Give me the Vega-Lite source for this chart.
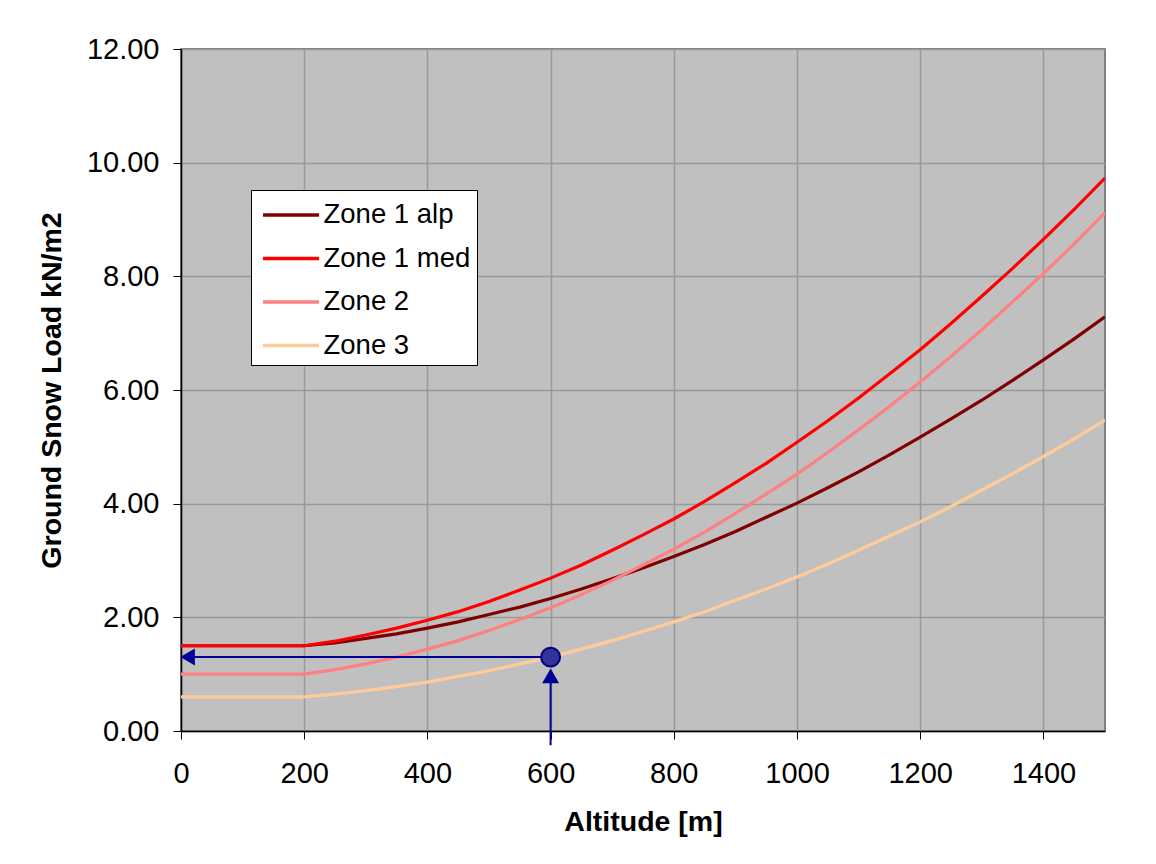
{
  "$schema": "https://vega.github.io/schema/vega-lite/v6.json",
  "width": 924,
  "height": 682,
  "autosize": {"type": "none"},
  "padding": {"left": 181, "top": 49, "right": 51, "bottom": 133},
  "background": "white",
  "config": {
    "font": "Liberation Sans",
    "view": {"fill": "#C0C0C0", "stroke": "#808080", "strokeWidth": 2},
    "axis": {
      "labelFont": "Liberation Sans",
      "labelFontSize": 29,
      "labelColor": "black",
      "titleFont": "Liberation Sans",
      "titleFontSize": 28.5,
      "titleFontWeight": "bold",
      "titleColor": "black",
      "domainColor": "black",
      "domainWidth": 1.5,
      "tickColor": "black",
      "tickSize": 8,
      "gridColor": "#999999",
      "gridWidth": 1.5,
      "gridOpacity": 1
    }
  },
  "datasets": {
    "curves": [
      {"alt": 0, "load": 1.5, "zone": "Zone 1 alp"},
      {"alt": 200, "load": 1.5, "zone": "Zone 1 alp"},
      {"alt": 250, "load": 1.55, "zone": "Zone 1 alp"},
      {"alt": 300, "load": 1.63, "zone": "Zone 1 alp"},
      {"alt": 350, "load": 1.71, "zone": "Zone 1 alp"},
      {"alt": 400, "load": 1.81, "zone": "Zone 1 alp"},
      {"alt": 450, "load": 1.92, "zone": "Zone 1 alp"},
      {"alt": 500, "load": 2.05, "zone": "Zone 1 alp"},
      {"alt": 550, "load": 2.18, "zone": "Zone 1 alp"},
      {"alt": 600, "load": 2.33, "zone": "Zone 1 alp"},
      {"alt": 650, "load": 2.5, "zone": "Zone 1 alp"},
      {"alt": 700, "load": 2.68, "zone": "Zone 1 alp"},
      {"alt": 750, "load": 2.87, "zone": "Zone 1 alp"},
      {"alt": 800, "load": 3.07, "zone": "Zone 1 alp"},
      {"alt": 850, "load": 3.28, "zone": "Zone 1 alp"},
      {"alt": 900, "load": 3.51, "zone": "Zone 1 alp"},
      {"alt": 950, "load": 3.76, "zone": "Zone 1 alp"},
      {"alt": 1000, "load": 4.01, "zone": "Zone 1 alp"},
      {"alt": 1050, "load": 4.28, "zone": "Zone 1 alp"},
      {"alt": 1100, "load": 4.56, "zone": "Zone 1 alp"},
      {"alt": 1150, "load": 4.86, "zone": "Zone 1 alp"},
      {"alt": 1200, "load": 5.17, "zone": "Zone 1 alp"},
      {"alt": 1250, "load": 5.49, "zone": "Zone 1 alp"},
      {"alt": 1300, "load": 5.82, "zone": "Zone 1 alp"},
      {"alt": 1350, "load": 6.17, "zone": "Zone 1 alp"},
      {"alt": 1400, "load": 6.53, "zone": "Zone 1 alp"},
      {"alt": 1450, "load": 6.9, "zone": "Zone 1 alp"},
      {"alt": 1500, "load": 7.29, "zone": "Zone 1 alp"},
      {"alt": 0, "load": 1.5, "zone": "Zone 1 med"},
      {"alt": 200, "load": 1.5, "zone": "Zone 1 med"},
      {"alt": 250, "load": 1.58, "zone": "Zone 1 med"},
      {"alt": 300, "load": 1.69, "zone": "Zone 1 med"},
      {"alt": 350, "load": 1.81, "zone": "Zone 1 med"},
      {"alt": 400, "load": 1.95, "zone": "Zone 1 med"},
      {"alt": 450, "load": 2.1, "zone": "Zone 1 med"},
      {"alt": 500, "load": 2.28, "zone": "Zone 1 med"},
      {"alt": 550, "load": 2.48, "zone": "Zone 1 med"},
      {"alt": 600, "load": 2.69, "zone": "Zone 1 med"},
      {"alt": 650, "load": 2.92, "zone": "Zone 1 med"},
      {"alt": 700, "load": 3.18, "zone": "Zone 1 med"},
      {"alt": 750, "load": 3.45, "zone": "Zone 1 med"},
      {"alt": 800, "load": 3.73, "zone": "Zone 1 med"},
      {"alt": 850, "load": 4.04, "zone": "Zone 1 med"},
      {"alt": 900, "load": 4.37, "zone": "Zone 1 med"},
      {"alt": 950, "load": 4.71, "zone": "Zone 1 med"},
      {"alt": 1000, "load": 5.08, "zone": "Zone 1 med"},
      {"alt": 1050, "load": 5.46, "zone": "Zone 1 med"},
      {"alt": 1100, "load": 5.86, "zone": "Zone 1 med"},
      {"alt": 1150, "load": 6.28, "zone": "Zone 1 med"},
      {"alt": 1200, "load": 6.71, "zone": "Zone 1 med"},
      {"alt": 1250, "load": 7.17, "zone": "Zone 1 med"},
      {"alt": 1300, "load": 7.65, "zone": "Zone 1 med"},
      {"alt": 1350, "load": 8.14, "zone": "Zone 1 med"},
      {"alt": 1400, "load": 8.65, "zone": "Zone 1 med"},
      {"alt": 1450, "load": 9.18, "zone": "Zone 1 med"},
      {"alt": 1500, "load": 9.73, "zone": "Zone 1 med"},
      {"alt": 0, "load": 1.0, "zone": "Zone 2"},
      {"alt": 200, "load": 1.0, "zone": "Zone 2"},
      {"alt": 250, "load": 1.08, "zone": "Zone 2"},
      {"alt": 300, "load": 1.18, "zone": "Zone 2"},
      {"alt": 350, "load": 1.3, "zone": "Zone 2"},
      {"alt": 400, "load": 1.44, "zone": "Zone 2"},
      {"alt": 450, "load": 1.59, "zone": "Zone 2"},
      {"alt": 500, "load": 1.77, "zone": "Zone 2"},
      {"alt": 550, "load": 1.96, "zone": "Zone 2"},
      {"alt": 600, "load": 2.17, "zone": "Zone 2"},
      {"alt": 650, "load": 2.4, "zone": "Zone 2"},
      {"alt": 700, "load": 2.65, "zone": "Zone 2"},
      {"alt": 750, "load": 2.92, "zone": "Zone 2"},
      {"alt": 800, "load": 3.2, "zone": "Zone 2"},
      {"alt": 850, "load": 3.5, "zone": "Zone 2"},
      {"alt": 900, "load": 3.83, "zone": "Zone 2"},
      {"alt": 950, "load": 4.17, "zone": "Zone 2"},
      {"alt": 1000, "load": 4.52, "zone": "Zone 2"},
      {"alt": 1050, "load": 4.9, "zone": "Zone 2"},
      {"alt": 1100, "load": 5.3, "zone": "Zone 2"},
      {"alt": 1150, "load": 5.71, "zone": "Zone 2"},
      {"alt": 1200, "load": 6.14, "zone": "Zone 2"},
      {"alt": 1250, "load": 6.59, "zone": "Zone 2"},
      {"alt": 1300, "load": 7.06, "zone": "Zone 2"},
      {"alt": 1350, "load": 7.55, "zone": "Zone 2"},
      {"alt": 1400, "load": 8.05, "zone": "Zone 2"},
      {"alt": 1450, "load": 8.57, "zone": "Zone 2"},
      {"alt": 1500, "load": 9.12, "zone": "Zone 2"},
      {"alt": 0, "load": 0.6, "zone": "Zone 3"},
      {"alt": 200, "load": 0.6, "zone": "Zone 3"},
      {"alt": 250, "load": 0.65, "zone": "Zone 3"},
      {"alt": 300, "load": 0.71, "zone": "Zone 3"},
      {"alt": 350, "load": 0.78, "zone": "Zone 3"},
      {"alt": 400, "load": 0.86, "zone": "Zone 3"},
      {"alt": 450, "load": 0.96, "zone": "Zone 3"},
      {"alt": 500, "load": 1.06, "zone": "Zone 3"},
      {"alt": 550, "load": 1.18, "zone": "Zone 3"},
      {"alt": 600, "load": 1.3, "zone": "Zone 3"},
      {"alt": 650, "load": 1.44, "zone": "Zone 3"},
      {"alt": 700, "load": 1.59, "zone": "Zone 3"},
      {"alt": 750, "load": 1.75, "zone": "Zone 3"},
      {"alt": 800, "load": 1.92, "zone": "Zone 3"},
      {"alt": 850, "load": 2.1, "zone": "Zone 3"},
      {"alt": 900, "load": 2.3, "zone": "Zone 3"},
      {"alt": 950, "load": 2.5, "zone": "Zone 3"},
      {"alt": 1000, "load": 2.71, "zone": "Zone 3"},
      {"alt": 1050, "load": 2.94, "zone": "Zone 3"},
      {"alt": 1100, "load": 3.18, "zone": "Zone 3"},
      {"alt": 1150, "load": 3.43, "zone": "Zone 3"},
      {"alt": 1200, "load": 3.68, "zone": "Zone 3"},
      {"alt": 1250, "load": 3.95, "zone": "Zone 3"},
      {"alt": 1300, "load": 4.24, "zone": "Zone 3"},
      {"alt": 1350, "load": 4.53, "zone": "Zone 3"},
      {"alt": 1400, "load": 4.83, "zone": "Zone 3"},
      {"alt": 1450, "load": 5.14, "zone": "Zone 3"},
      {"alt": 1500, "load": 5.47, "zone": "Zone 3"}
    ],
    "hline": [{"alt": 600, "alt2": 20, "load": 1.3}],
    "vline": [{"alt": 600, "load": -0.25, "load2": 1.0}],
    "leftHead": [{"alt": 10.6, "load": 1.3}],
    "upHead": [{"alt": 600, "load": 0.97}],
    "marker": [{"alt": 600, "load": 1.3}]
  },
  "layer": [
    {
      "data": {"name": "curves"},
      "mark": {"type": "line", "strokeWidth": 3.2, "clip": true},
      "encoding": {
        "x": {
          "field": "alt", "type": "quantitative",
          "scale": {"domain": [0, 1500], "nice": false, "zero": false},
          "axis": {"values": [0, 200, 400, 600, 800, 1000, 1200, 1400], "format": "d", "title": "Altitude [m]", "labelPadding": 20, "titlePadding": 19, "labelFlush": false}
        },
        "y": {
          "field": "load", "type": "quantitative",
          "scale": {"domain": [0, 12], "nice": false},
          "axis": {"values": [0, 2, 4, 6, 8, 10, 12], "format": ".2f", "title": "Ground Snow Load kN/m2", "labelPadding": 14, "titlePadding": 20}
        },
        "color": {
          "field": "zone", "type": "nominal",
          "scale": {"domain": ["Zone 1 alp", "Zone 1 med", "Zone 2", "Zone 3"], "range": ["#800000", "#FF0000", "#FF8080", "#FFCC99"]},
          "legend": {
            "title": null,
            "orient": "none",
            "legendX": 70,
            "legendY": 141,
            "fillColor": "white",
            "strokeColor": "black",
            "padding": 6,
            "symbolType": "M-1.65,0H1.65",
            "symbolSize": 1156,
            "symbolStrokeWidth": 3.5,
            "symbolFillColor": "transparent",
            "symbolOffset": 15,
            "labelFontSize": 27.5,
            "labelFont": "Liberation Sans",
            "labelColor": "black",
            "labelOffset": 13.5,
            "rowPadding": 10.5,
            "labelLimit": 400
          }
        }
      }
    },
    {
      "data": {"name": "hline"},
      "mark": {"type": "rule", "color": "#000099", "strokeWidth": 2},
      "encoding": {
        "x": {"field": "alt", "type": "quantitative"},
        "x2": {"field": "alt2"},
        "y": {"field": "load", "type": "quantitative"}
      }
    },
    {
      "data": {"name": "vline"},
      "mark": {"type": "rule", "color": "#000099", "strokeWidth": 2},
      "encoding": {
        "x": {"field": "alt", "type": "quantitative"},
        "y": {"field": "load", "type": "quantitative"},
        "y2": {"field": "load2"}
      }
    },
    {
      "data": {"name": "leftHead"},
      "mark": {"type": "point", "shape": "triangle-left", "filled": true, "color": "#000099", "size": 289, "opacity": 1},
      "encoding": {
        "x": {"field": "alt", "type": "quantitative"},
        "y": {"field": "load", "type": "quantitative"}
      }
    },
    {
      "data": {"name": "upHead"},
      "mark": {"type": "point", "shape": "triangle-up", "filled": true, "color": "#000099", "size": 289, "opacity": 1},
      "encoding": {
        "x": {"field": "alt", "type": "quantitative"},
        "y": {"field": "load", "type": "quantitative"}
      }
    },
    {
      "data": {"name": "marker"},
      "mark": {"type": "point", "shape": "circle", "filled": true, "fill": "#333399", "stroke": "#000080", "strokeWidth": 2, "size": 360, "opacity": 1, "fillOpacity": 1},
      "encoding": {
        "x": {"field": "alt", "type": "quantitative"},
        "y": {"field": "load", "type": "quantitative"}
      }
    }
  ]
}
